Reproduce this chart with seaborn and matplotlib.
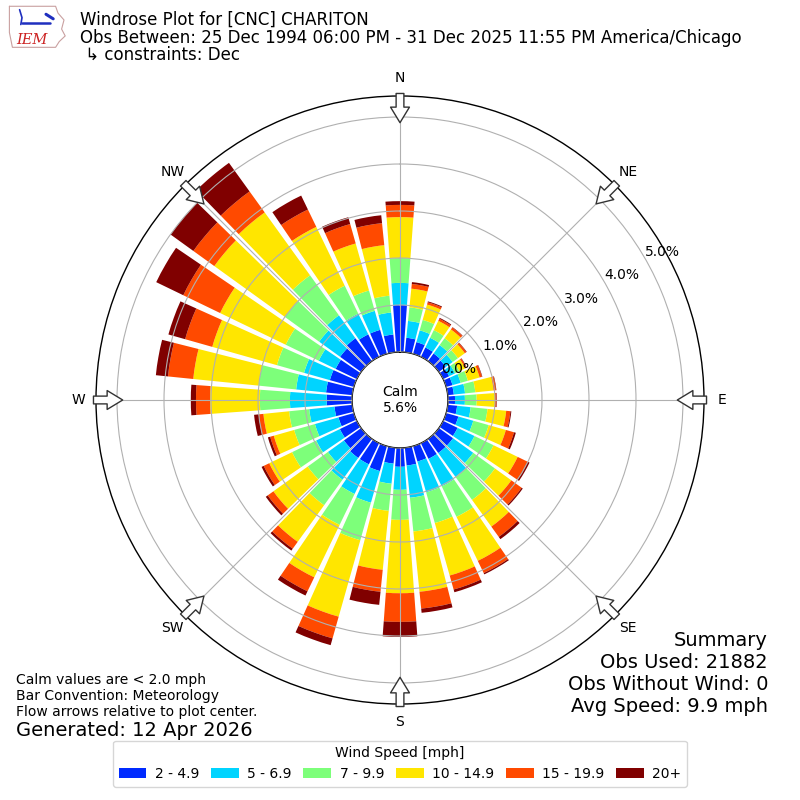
import numpy as np
import matplotlib
matplotlib.use("Agg")
import matplotlib.pyplot as plt
import seaborn as sns

# Direction bins (degrees, meteorological) and frequency (%) per speed bin
directions = [0, 10, 20, 30, 40, 50, 60, 70, 80, 90, 100, 110,
              120, 130, 140, 150, 160, 170, 180, 190, 200, 210, 220, 230,
              240, 250, 260, 270, 280, 290, 300, 310, 320, 330, 340, 350]

s2_5 = [1.00, 0.31, 0.26, 0.22, 0.20, 0.18, 0.14, 0.14, 0.13, 0.15, 0.20, 0.27,
        0.34, 0.37, 0.37, 0.37, 0.34, 0.38, 0.40, 0.34, 0.55, 0.50, 0.50, 0.45,
        0.40, 0.34, 0.38, 0.54, 0.56, 0.53, 0.50, 0.55, 0.60, 0.53, 0.53, 0.38]
s5_7 = [0.47, 0.36, 0.26, 0.23, 0.22, 0.18, 0.14, 0.18, 0.24, 0.21, 0.29, 0.33,
        0.40, 0.53, 0.63, 0.65, 0.68, 0.69, 0.49, 0.43, 0.70, 0.70, 0.57, 0.42,
        0.56, 0.52, 0.54, 0.78, 0.64, 0.57, 0.40, 0.55, 0.60, 0.49, 0.42, 0.47]
s7_10 = [0.53, 0.29, 0.23, 0.18, 0.18, 0.14, 0.10, 0.16, 0.22, 0.25, 0.36, 0.34,
         0.45, 0.57, 0.60, 0.72, 0.68, 0.72, 0.64, 0.58, 0.83, 0.73, 0.67, 0.53,
         0.57, 0.46, 0.43, 0.64, 0.80, 0.60, 0.78, 0.90, 1.05, 0.66, 0.45, 0.36]
s10_15 = [0.87, 0.40, 0.34, 0.22, 0.23, 0.18, 0.14, 0.26, 0.39, 0.39, 0.40, 0.38,
          0.57, 0.43, 0.70, 1.04, 1.16, 1.29, 1.56, 1.26, 1.69, 1.24, 0.96, 0.90,
          0.54, 0.45, 0.55, 1.06, 1.40, 1.43, 1.55, 1.85, 1.65, 1.39, 1.04, 1.08]
s15_20 = [0.26, 0.10, 0.05, 0.05, 0.05, 0.04, 0.03, 0.05, 0.05, 0.03, 0.09, 0.18,
          0.24, 0.27, 0.27, 0.29, 0.31, 0.36, 0.61, 0.47, 0.48, 0.33, 0.18, 0.15,
          0.13, 0.08, 0.10, 0.30, 0.54, 0.60, 0.87, 0.55, 0.55, 0.41, 0.43, 0.47]
s20 = [0.08, 0.04, 0.02, 0.02, 0.01, 0.01, 0.01, 0.01, 0.01, 0.01, 0.02, 0.04,
       0.04, 0.03, 0.06, 0.03, 0.06, 0.09, 0.32, 0.28, 0.15, 0.10, 0.05, 0.05,
       0.05, 0.05, 0.10, 0.11, 0.26, 0.37, 0.64, 0.60, 0.75, 0.33, 0.15, 0.17]

speed_labels = ["2 - 4.9", "5 - 6.9", "7 - 9.9", "10 - 14.9", "15 - 19.9", "20+"]
speed_colors = ["#002aff", "#00d4ff", "#7dff7a", "#ffe600", "#ff4a00", "#800000"]

compass = ["N", "NE", "E", "SE", "S", "SW", "W", "NW"]
compass_deg = [0, 45, 90, 135, 180, 225, 270, 315]
ring_vals = [0, 1, 2, 3, 4, 5]

calm_pct = 5.6

sns.set_style("white")
plt.rcParams['font.family'] = ['DejaVu Sans']
plt.rcParams['text.color'] = 'black'
plt.rcParams['xtick.color'] = 'black'
plt.rcParams['ytick.color'] = 'black'
plt.rcParams['legend.title_fontsize'] = 10

fig = plt.figure(figsize=(8, 8), dpi=100)
ax = fig.add_axes([0.12, 0.12, 0.76, 0.76], projection="polar")
ax.set_theta_zero_location("N")
ax.set_theta_direction(-1)

theta = np.radians(directions)
width = np.radians(8.4)
bottom = np.zeros(len(directions))
handles = []
for vals, lab, col in zip([s2_5, s5_7, s7_10, s10_15, s15_20, s20],
                          speed_labels, speed_colors):
    vals = np.array(vals)
    b = ax.bar(theta, vals, width=width, bottom=bottom, color=col,
               edgecolor="none", label=lab, zorder=1)
    handles.append(b)
    bottom = bottom + vals

# calm circle in the middle
ax.set_ylim(0, 5.447)
ax.set_rorigin(-1.021)

ax.set_xticks(np.radians(compass_deg))
ax.set_xticklabels(compass, fontsize=10)
ax.tick_params(axis="x", pad=2.5)
ax.set_yticks(ring_vals)
ax.set_yticklabels([f"{v:.1f}%" for v in ring_vals], fontsize=10)
ax.set_rlabel_position(60)
ax.set_axisbelow(False)
ax.grid(True, color="#b0b0b0", linewidth=0.8)
for gl in ax.get_xgridlines() + ax.get_ygridlines():
    gl.set_zorder(1.5)
for lbl in ax.get_yticklabels():
    lbl.set_zorder(4)
for name in ax.spines:
    ax.spines[name].set_color("black")
    ax.spines[name].set_linewidth(1.0)

ax.text(0.5, 0.5, "Calm\n%.1f%%" % calm_pct, transform=ax.transAxes,
        ha="center", va="center", fontsize=10, zorder=5)

# flow arrows at the edge pointing to the center
for d in compass_deg:
    ax.annotate("", xy=(np.radians(d), 4.82), xytext=(np.radians(d), 5.56),
                xycoords="data", annotation_clip=False,
                arrowprops=dict(arrowstyle="simple,head_length=0.7,head_width=0.85,tail_width=0.35",
                                mutation_scale=16, fc="white", ec="#333333", lw=1),
                zorder=6)

# titles
fig.text(0.1, 0.975, "Windrose Plot for [CNC] CHARITON", fontsize=12, va="center")
fig.text(0.1, 0.9525, "Obs Between: 25 Dec 1994 06:00 PM - 31 Dec 2025 11:55 PM America/Chicago",
         fontsize=12, va="center")
fig.text(0.1, 0.931, " \u21b3 constraints: Dec", fontsize=12, va="center")

# summary block
summary = ["Summary", "Obs Used: 21882", "Obs Without Wind: 0", "Avg Speed: 9.9 mph"]
for i, line in enumerate(summary):
    fig.text(0.96, 0.2 - i * 0.0275, line, fontsize=14, ha="right", va="center")

notes = ["Calm values are < 2.0 mph", "Bar Convention: Meteorology",
         "Flow arrows relative to plot center."]
for i, line in enumerate(notes):
    fig.text(0.02, 0.15 - i * 0.02, line, fontsize=10, va="center")
fig.text(0.02, 0.0875, "Generated: 12 Apr 2026", fontsize=14, va="center")

fig.legend(handles, speed_labels, loc="lower center", bbox_to_anchor=(0.5, 0.008),
           ncol=6, title="Wind Speed [mph]", fontsize=10,
           frameon=True, edgecolor="#cccccc", columnspacing=0.85, handletextpad=0.6)

# small IEM logo
lax = fig.add_axes([0.008, 0.938, 0.075, 0.057])
lax.set_xlim(0, 10)
lax.set_ylim(0, 8)
lax.axis("off")
outline_x = [0.5, 8.2, 8.6, 9.6, 9.2, 9.8, 8.8, 8.2, 1.0, 0.5, 0.5]
outline_y = [7.6, 7.6, 6.4, 5.2, 3.6, 2.4, 1.4, 0.4, 0.4, 3.0, 7.6]
lax.plot(outline_x, outline_y, color="#c9a0a0", lw=0.8)
lax.plot([2.6, 7.2], [4.6, 4.6], color="#1f2fbf", lw=1.8)
lax.plot([2.2, 2.6, 2.4], [7.0, 5.6, 4.4], color="#1f2fbf", lw=1.2)
lax.plot([6.6, 7.8], [6.2, 5.4], color="#1f2fbf", lw=2.2)
lax.text(4.2, 1.6, "IEM", color="#cc2222", fontsize=10.5, family="DejaVu Serif",
         style="italic", ha="center", va="center")

fig.savefig("out.png", dpi=100)
